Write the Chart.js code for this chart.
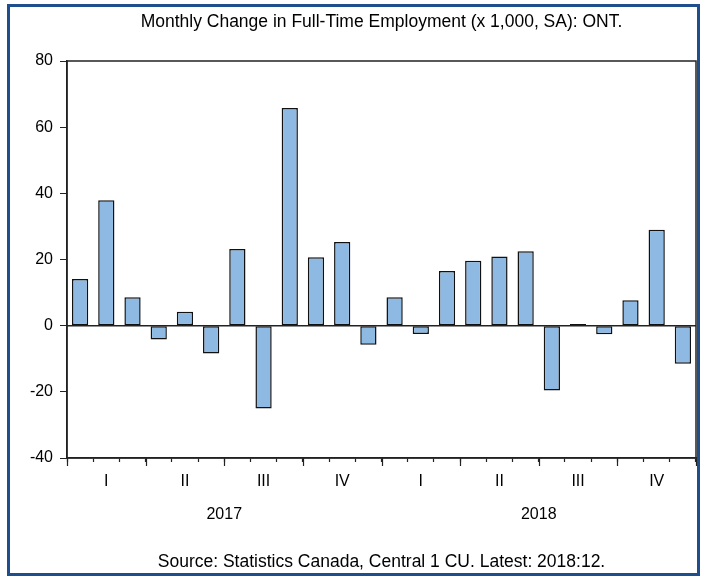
<!DOCTYPE html>
<html>
<head>
<meta charset="utf-8">
<title>Monthly Change in Full-Time Employment: ONT</title>
<script src="https://cdn.jsdelivr.net/npm/chart.js@4"></script>
<style>
    html, body { margin: 0; padding: 0; background: #fff; }
    #wrap { width: 705px; height: 580px; position: relative; }
</style>
</head>
<body>
<div id="wrap"><canvas id="empChart"></canvas></div>
<script>
// monthly categories, 2017:01 .. 2018:12
const months = [
    '2017:01', '2017:02', '2017:03', '2017:04', '2017:05', '2017:06',
    '2017:07', '2017:08', '2017:09', '2017:10', '2017:11', '2017:12',
    '2018:01', '2018:02', '2018:03', '2018:04', '2018:05', '2018:06',
    '2018:07', '2018:08', '2018:09', '2018:10', '2018:11', '2018:12'
];
// change in full-time employment, thousands
const changeValues = [
    14.1, 37.9, 8.6, -4.2, 4.2, -8.4, 23.2, -25.0, 65.8, 20.7, 25.3, -5.8,
    8.6, -2.5, 16.5, 19.6, 20.9, 22.5, -19.6, 0.5, -2.6, 7.7, 29.0, -11.5
];
const quarterLabels = ['I', 'II', 'III', 'IV'];
const yearLabels = ['2017', '2018'];
const yTicks = [-40, -20, 0, 20, 40, 60, 80];

const TITLE = 'Monthly Change in Full-Time Employment (x 1,000, SA): ONT.';
const SOURCE = 'Source: Statistics Canada, Central 1 CU. Latest: 2018:12.';

const COLORS = {
    bar: '#8DB9E3',
    barEdge: '#111111',
    axis: '#222222',
    frame: '#1F4E8C',
    text: '#000000'
};
const FONT = "'Liberation Sans', Arial, sans-serif";

// boundary pixel between category i-1 and i
function boundaryX(scale, i) {
    const n = scale.getLabels().length;
    const step = (scale.getPixelForValue(n - 1) - scale.getPixelForValue(0)) / (n - 1);
    return scale.getPixelForValue(i) - step / 2;
}

const decorPlugin = {
    id: 'decor',
    afterDatasetsDraw(chart) {
        // zero line over the bars
        const ctx = chart.ctx;
        const area = chart.chartArea;
        const y0 = chart.scales.y.getPixelForValue(0);
        ctx.save();
        ctx.strokeStyle = COLORS.axis;
        ctx.lineWidth = 1.5;
        ctx.beginPath();
        ctx.moveTo(area.left, y0);
        ctx.lineTo(area.right, y0);
        ctx.stroke();
        ctx.restore();
    },
    afterDraw(chart) {
        const ctx = chart.ctx;
        const area = chart.chartArea;
        const xs = chart.scales.x;
        const n = months.length;
        ctx.save();

        // plot frame
        ctx.strokeStyle = COLORS.axis;
        ctx.lineWidth = 1.5;
        ctx.strokeRect(area.left, area.top, area.right - area.left, area.bottom - area.top);

        // longer ticks at quarter boundaries
        ctx.lineWidth = 1.2;
        for (let i = 0; i <= n; i += 3) {
            const x = Math.round(boundaryX(xs, i)) + 0.5;
            ctx.beginPath();
            ctx.moveTo(x, area.bottom);
            ctx.lineTo(x, area.bottom + 8);
            ctx.stroke();
        }

        // year labels under the quarters
        ctx.fillStyle = COLORS.text;
        ctx.font = '16px ' + FONT;
        ctx.textAlign = 'center';
        ctx.textBaseline = 'middle';
        yearLabels.forEach((yr, k) => {
            const x = boundaryX(xs, k * 12 + 6);
            ctx.fillText(yr, x, 515);
        });

        // title and source, centred over the plot
        const cx = (area.left + area.right) / 2;
        ctx.font = '17.5px ' + FONT;
        ctx.fillText(TITLE, cx, 22);
        ctx.fillText(SOURCE, cx, 562);

        // outer blue border
        ctx.strokeStyle = COLORS.frame;
        ctx.lineWidth = 3;
        ctx.strokeRect(8.5, 5.5, 690, 569);
        ctx.restore();
    }
};

const ctxEl = document.getElementById('empChart');

new Chart(ctxEl, {
    type: 'bar',
    data: {
        labels: months,
        datasets: [{
            label: 'Full-time employment change',
            data: changeValues,
            backgroundColor: COLORS.bar,
            borderColor: COLORS.barEdge,
            borderWidth: 1.5,
            borderSkipped: false,
            barPercentage: 0.62,
            categoryPercentage: 1.0
        }]
    },
    options: {
        responsive: true,
        maintainAspectRatio: false,
        animation: false,
        layout: {
            padding: { left: 8, right: 9, top: 61, bottom: 62 }
        },
        plugins: {
            legend: { display: false },
            title: { display: false },
            tooltip: { enabled: false }
        },
        scales: {
            x: {
                offset: true,
                afterFit: (scale) => { scale.height = 60; },
                grid: {
                    offset: true,
                    drawOnChartArea: false,
                    tickLength: 4,
                    tickColor: COLORS.axis,
                    tickWidth: 1.2
                },
                border: { color: COLORS.axis, width: 1.5 },
                ticks: {
                    autoSkip: false,
                    maxRotation: 0,
                    padding: 10,
                    color: COLORS.text,
                    font: { family: FONT, size: 16 },
                    callback: function(value, index) {
                        return index % 3 === 1 ? quarterLabels[((index - 1) / 3) % 4] : '';
                    }
                }
            },
            y: {
                min: yTicks[0],
                max: yTicks[yTicks.length - 1],
                afterFit: (scale) => { scale.width = 59; },
                afterBuildTicks: (scale) => {
                    scale.ticks = yTicks.map(v => ({ value: v }));
                },
                grid: {
                    drawOnChartArea: false,
                    tickLength: 7,
                    tickColor: COLORS.axis
                },
                border: { color: COLORS.axis, width: 1.5 },
                ticks: {
                    padding: 7,
                    color: COLORS.text,
                    font: { family: FONT, size: 16 }
                }
            }
        }
    },
    plugins: [decorPlugin]
});
</script>
</body>
</html>
